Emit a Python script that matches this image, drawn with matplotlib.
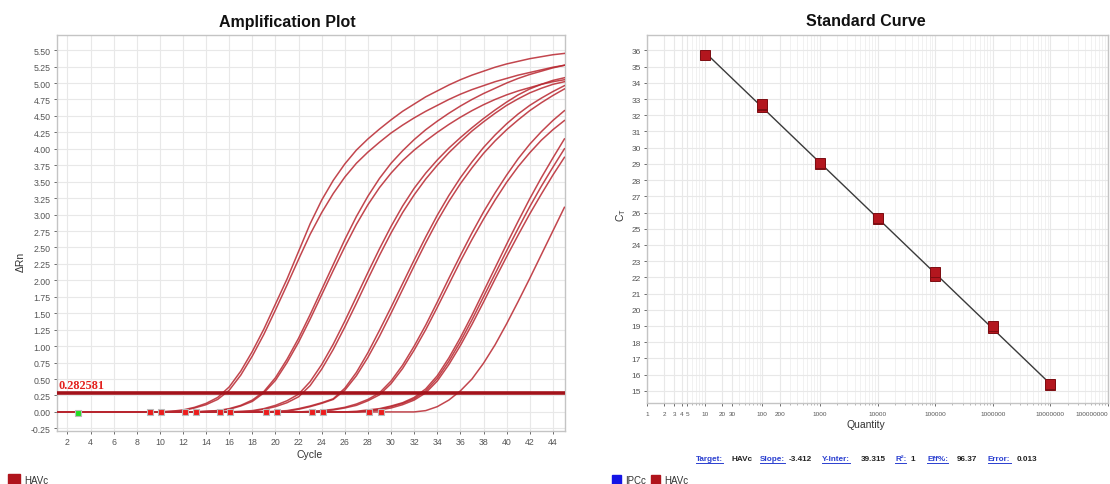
import numpy as np
import matplotlib
matplotlib.use('Agg')
import matplotlib.pyplot as plt
from matplotlib.ticker import FixedLocator, FormatStrFormatter, NullFormatter
from matplotlib.patches import Rectangle
from matplotlib.lines import Line2D

plt.rcParams['font.family'] = ['Liberation Sans', 'DejaVu Sans']

# ---------------- data ----------------
cycles = list(range(1, 46))
threshold = 0.282581

curve_A1 = [0.0]*10 + [0.01, 0.03, 0.07, 0.13, 0.22, 0.38, 0.62, 0.92, 1.26, 1.64, 2.02, 2.44, 2.86, 3.22, 3.52,
                       3.77, 3.98, 4.15, 4.30, 4.44, 4.57, 4.68, 4.79, 4.88, 4.97, 5.05, 5.12, 5.18, 5.24, 5.29,
                       5.33, 5.37, 5.40, 5.43, 5.45]
curve_A2 = [0.0]*10 + [0.01, 0.02, 0.06, 0.11, 0.19, 0.33, 0.56, 0.85, 1.18, 1.55, 1.93, 2.32, 2.70, 3.03, 3.32,
                       3.57, 3.78, 3.95, 4.10, 4.24, 4.36, 4.47, 4.57, 4.66, 4.75, 4.83, 4.90, 4.96, 5.02, 5.07,
                       5.12, 5.16, 5.20, 5.24, 5.27]
curve_B1 = [0.0]*13 + [0.01, 0.02, 0.05, 0.10, 0.18, 0.31, 0.52, 0.80, 1.12, 1.48, 1.86, 2.24, 2.62, 2.97, 3.28,
                       3.55, 3.78, 3.97, 4.14, 4.29, 4.42, 4.54, 4.65, 4.75, 4.84, 4.92, 5.00, 5.07, 5.13, 5.18,
                       5.23, 5.27]
curve_B2 = [0.0]*13 + [0.01, 0.02, 0.04, 0.09, 0.16, 0.29, 0.48, 0.75, 1.06, 1.41, 1.78, 2.15, 2.51, 2.85, 3.15,
                       3.41, 3.63, 3.82, 3.98, 4.12, 4.25, 4.37, 4.48, 4.58, 4.67, 4.75, 4.82, 4.88, 4.93, 4.98,
                       5.02, 5.05]
curve_C1 = [0.0]*16 + [0.01, 0.02, 0.05, 0.10, 0.17, 0.27, 0.46, 0.72, 1.03, 1.38, 1.75, 2.12, 2.48, 2.82, 3.13,
                       3.40, 3.63, 3.83, 4.01, 4.17, 4.32, 4.46, 4.59, 4.71, 4.82, 4.91, 4.98, 5.04, 5.08]
curve_C2 = [0.0]*17 + [0.01, 0.04, 0.08, 0.14, 0.23, 0.40, 0.65, 0.95, 1.29, 1.65, 2.02, 2.38, 2.72, 3.03, 3.30,
                       3.54, 3.75, 3.94, 4.11, 4.27, 4.41, 4.54, 4.66, 4.76, 4.85, 4.92, 4.98, 5.02]
curve_D1 = [0.0]*19 + [0.01, 0.02, 0.05, 0.09, 0.14, 0.20, 0.36, 0.60, 0.90, 1.24, 1.59, 1.95, 2.31, 2.66, 2.99,
                       3.29, 3.56, 3.80, 4.02, 4.21, 4.38, 4.53, 4.66, 4.77, 4.87, 4.96]
curve_D2 = [0.0]*20 + [0.01, 0.04, 0.08, 0.13, 0.19, 0.33, 0.55, 0.83, 1.15, 1.50, 1.86, 2.22, 2.57, 2.90, 3.20,
                       3.47, 3.71, 3.93, 4.12, 4.29, 4.44, 4.58, 4.70, 4.81, 4.91]
curve_E1 = [0.0]*22 + [0.01, 0.02, 0.04, 0.07, 0.12, 0.19, 0.29, 0.47, 0.71, 1.00, 1.32, 1.67, 2.03, 2.38, 2.72,
                       3.04, 3.33, 3.60, 3.85, 4.07, 4.26, 4.43, 4.58]
curve_E2 = [0.0]*23 + [0.01, 0.03, 0.06, 0.10, 0.17, 0.26, 0.43, 0.66, 0.94, 1.25, 1.59, 1.94, 2.29, 2.62, 2.93,
                       3.22, 3.49, 3.73, 3.94, 4.13, 4.29, 4.43]
curve_F1 = [0.0]*26 + [0.01, 0.03, 0.05, 0.09, 0.14, 0.22, 0.35, 0.55, 0.82, 1.13, 1.47, 1.83, 2.19, 2.55, 2.90,
                       3.24, 3.56, 3.86, 4.15]
curve_F2 = [0.0]*27 + [0.02, 0.04, 0.08, 0.13, 0.20, 0.32, 0.51, 0.77, 1.07, 1.40, 1.75, 2.10, 2.45, 2.79, 3.12,
                       3.43, 3.72, 4.00]
curve_F3 = [0.0]*27 + [0.01, 0.03, 0.06, 0.11, 0.18, 0.29, 0.47, 0.72, 1.01, 1.33, 1.67, 2.02, 2.36, 2.69, 3.01,
                       3.31, 3.60, 3.87]
curve_G1 = [0.0]*32 + [0.02, 0.08, 0.18, 0.32, 0.50, 0.74, 1.02, 1.34, 1.68, 2.03, 2.39, 2.75, 3.11]

amp_curves = [curve_A1, curve_A2, curve_B1, curve_B2, curve_C1, curve_C2, curve_D1, curve_D2,
              curve_E1, curve_E2, curve_F1, curve_F2, curve_F3, curve_G1]

baseline_start_cycles = [2.95]
baseline_end_cycles = [9.15, 10.1, 12.2, 13.1, 15.2, 16.1, 19.2, 20.1, 23.15, 24.1, 28.1, 29.1]

amp_yticks = [-0.25, 0.0, 0.25, 0.5, 0.75, 1.0, 1.25, 1.5, 1.75, 2.0, 2.25, 2.5, 2.75, 3.0, 3.25, 3.5,
              3.75, 4.0, 4.25, 4.5, 4.75, 5.0, 5.25, 5.5]
amp_xticks = list(range(2, 45, 2))

std_quantity = [10, 100, 100, 100, 1e3, 1e3, 1e4, 1e4, 1e5, 1e5, 1e6, 1e6, 1e7, 1e7]
std_ct = [35.71, 32.52, 32.62, 32.70, 28.98, 29.05, 25.58, 25.68, 22.08, 22.30, 18.88, 18.98, 15.33, 15.45]
std_yticks = list(range(15, 37))
std_xtick_vals = [1, 2, 3, 4, 5, 10, 20, 30, 100, 200, 1e3, 1e4, 1e5, 1e6, 1e7, 1e8]
std_xtick_labels = ['1', '2', '3', '4', '5', '10', '20', '30', '100', '200', '1000', '10000',
                    '100000', '1000000', '10000000', '100000000']

stats_labels = ['Target:', 'Slope:', 'Y-Inter:', 'R\u00b2:', 'Eff%:', 'Error:']
stats_values = ['HAVc', '-3.412', '39.315', '1', '96.37', '0.013']

# ---------------- figure ----------------
W, H = 1110, 485
fig = plt.figure(figsize=(W / 100, H / 100), dpi=100)


def fx(px):
    return px / W


def fy(py):
    return 1 - py / H


grid_c = '#e8e8e8'
spine_c = '#c4c4c4'
tick_c = '#555555'
curve_c = '#b8262f'
marker_red = '#b3161e'

# ---- amplification plot ----
ax1 = fig.add_axes([fx(57), fy(432), fx(565) - fx(57), fy(36) - fy(432)])
ax1.set_xlim(1.1, 45.05)
ax1.set_ylim(-0.29, 5.73)
for vals in amp_curves:
    ax1.plot(cycles, vals, color=curve_c, lw=1.1, alpha=0.85, solid_joinstyle='round', zorder=3)
ax1.axhline(threshold, color='#a3121a', lw=2.6, zorder=4)
ax1.text(1.2, threshold + 0.035, f'{threshold}', family=['Liberation Serif'], weight='bold',
         color='#e3201d', fontsize=8.8, va='bottom', ha='left', zorder=5)
ax1.plot(baseline_end_cycles, [0.0] * len(baseline_end_cycles), ls='none', marker='s', ms=4.2,
         mfc='#ee1c1c', mec='#bbbbbb', mew=0.8, zorder=5)
ax1.plot(baseline_start_cycles, [-0.01], ls='none', marker='s', ms=4.2,
         mfc='#22dd22', mec='#bbbbbb', mew=0.8, zorder=5)
ax1.yaxis.set_major_locator(FixedLocator(amp_yticks))
ax1.yaxis.set_major_formatter(FormatStrFormatter('%.2f'))
ax1.xaxis.set_major_locator(FixedLocator(amp_xticks))
ax1.grid(True, color=grid_c, lw=0.8, zorder=0)
ax1.set_axisbelow(True)
for s in ax1.spines.values():
    s.set_color(spine_c)
    s.set_linewidth(1.0)
ax1.tick_params(axis='both', colors=tick_c, labelsize=6.3, length=2.5, width=0.6, pad=2)

fig.text(fx(287), fy(22), 'Amplification Plot', ha='center', va='center', weight='bold',
         fontsize=11.5, color='#111111')
fig.text(fx(310), fy(455), 'Cycle', ha='center', va='center', fontsize=7.5, color='#333333')
fig.text(fx(21), fy(262), '\u0394Rn', ha='center', va='center', fontsize=7.5, color='#333333',
         rotation=90)

# ---- standard curve ----
ax2 = fig.add_axes([fx(647), fy(404), fx(1108) - fx(647), fy(36) - fy(404)])
ax2.set_xscale('log')
ax2.set_xlim(1, 1e8)
ax2.set_ylim(14.25, 36.95)
logq = np.log10(std_quantity)
slope, inter = np.polyfit(logq, std_ct, 1)
qline = np.array([10.0, 1e7])
ax2.plot(qline, inter + slope * np.log10(qline), color='#3a3a3a', lw=1.0, zorder=3)
ax2.plot(std_quantity, std_ct, ls='none', marker='s', ms=6.5, mfc=marker_red, mec='#7d0d12',
         mew=0.7, zorder=4)
ax2.yaxis.set_major_locator(FixedLocator(std_yticks))
ax2.xaxis.set_major_locator(FixedLocator(std_xtick_vals))
ax2.xaxis.set_ticklabels(std_xtick_labels)
ax2.xaxis.set_minor_locator(matplotlib.ticker.LogLocator(base=10, subs=np.arange(2, 10), numticks=20))
ax2.xaxis.set_minor_formatter(NullFormatter())
ax2.grid(True, which='major', color=grid_c, lw=0.8, zorder=0)
ax2.grid(True, which='minor', axis='x', color='#efefef', lw=0.6, zorder=0)
ax2.set_axisbelow(True)
for s in ax2.spines.values():
    s.set_color(spine_c)
    s.set_linewidth(1.0)
ax2.tick_params(axis='y', colors=tick_c, labelsize=6.0, length=2.5, width=0.6, pad=2)
ax2.tick_params(axis='x', which='major', colors=tick_c, labelsize=4.6, length=2.5, width=0.6, pad=3)
ax2.tick_params(axis='x', which='minor', length=1.5, width=0.5, colors='#999999')
last_lab = ax2.xaxis.get_majorticklabels()[-1]
last_lab.set_horizontalalignment('right')

fig.text(fx(866), fy(22), 'Standard Curve', ha='center', va='center', weight='bold',
         fontsize=11.5, color='#111111')
fig.text(fx(866), fy(425), 'Quantity', ha='center', va='center', fontsize=7.5, color='#333333')
fig.text(fx(621), fy(215), r'C$_\mathregular{T}$', ha='center', va='center', fontsize=7.5,
         color='#333333', rotation=90)

# ---- stats line ----
link_c = '#2a3fd0'
x_lab = [696, 760, 822, 895, 927, 988]
x_val = [731, 789, 861, 911, 957, 1017]
link_texts = []
for lab, xl, val, xv in zip(stats_labels, x_lab, stats_values, x_val):
    t = fig.text(fx(xl), fy(460), lab, ha='left', va='center', fontsize=5.9, weight='bold', color=link_c)
    link_texts.append(t)
    fig.text(fx(xv), fy(460), val, ha='left', va='center', fontsize=5.9, weight='bold', color='#222222')

fig.canvas.draw()
rend = fig.canvas.get_renderer()
for t in link_texts:
    bb = t.get_window_extent(renderer=rend)
    yline = bb.y0 - 0.5
    fig.add_artist(Line2D([bb.x0 / W, bb.x1 / W], [yline / H, yline / H], color=link_c, lw=0.7))

# ---- legends ----
fig.add_artist(Rectangle((fx(8), fy(486)), fx(20) - fx(8), fy(475) - fy(486), color='#b0141c',
                         transform=fig.transFigure))
fig.text(fx(24), fy(481), 'HAVc', ha='left', va='center', fontsize=7, color='#333333')
fig.add_artist(Rectangle((fx(612), fy(486)), fx(621) - fx(612), fy(476) - fy(486), color='#1414e6',
                         transform=fig.transFigure))
fig.text(fx(625), fy(481), 'IPCc', ha='left', va='center', fontsize=7, color='#333333')
fig.add_artist(Rectangle((fx(651), fy(486)), fx(660) - fx(651), fy(476) - fy(486), color='#b0141c',
                         transform=fig.transFigure))
fig.text(fx(664), fy(481), 'HAVc', ha='left', va='center', fontsize=7, color='#333333')

fig.savefig('out.png', dpi=100, facecolor='white')
